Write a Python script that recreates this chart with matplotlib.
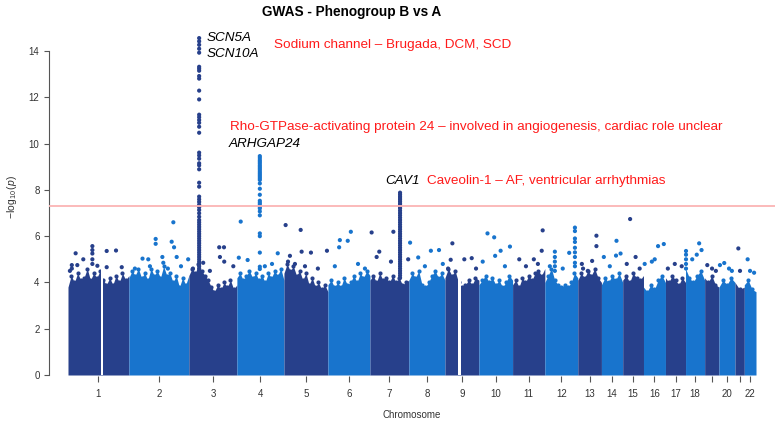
import numpy as np
import matplotlib.pyplot as plt

plt.rcParams['font.family'] = ['Liberation Sans', 'DejaVu Sans']
plt.rcParams['mathtext.fontset'] = 'custom'
plt.rcParams['mathtext.rm'] = 'Liberation Sans'
plt.rcParams['mathtext.it'] = 'Liberation Sans:italic'

# chromosome spans (Mb, first to last marker)
chrom_len = [255, 251, 201, 197, 184, 176, 163, 151, 142, 141, 135,
             138, 99, 89, 87, 92, 84, 80, 60, 67, 39, 49]
chrom_names = [str(i) for i in range(1, 23)]
tick_labels = [n if n not in ('19', '21') else '' for n in chrom_names]

# top of the dense mass of markers, read along each chromosome (-log10 p)
profiles = [
    [3.8, 4.3, 4.0, 4.4, 4.1, 4.2, 4.6, 4.1, 4.4, 4.2, 4.5, 4.1, 3.9, 4.2, 3.9, 4.3, 4.0, 4.4, 4.1, 4.3],
    [4.2, 4.5, 4.3, 4.6, 4.2, 4.4, 4.1, 4.6, 4.3, 4.5, 4.2, 4.7, 4.3, 4.4, 4.0, 4.3, 3.8, 4.2, 3.9, 4.3],
    [4.3, 4.6, 4.4, 4.8, 4.5, 4.3, 4.1, 3.8, 3.6, 3.9, 3.7, 4.0, 3.8, 4.1, 3.7, 3.9],
    [4.2, 4.4, 4.1, 4.3, 4.5, 4.2, 4.4, 4.1, 4.3, 4.0, 4.4, 4.2, 4.5, 4.3, 4.6, 4.1],
    [4.4, 4.8, 4.5, 4.7, 4.3, 4.5, 4.1, 4.4, 3.9, 4.2, 3.8, 4.0, 3.7, 3.9, 3.6],
    [3.9, 4.1, 3.8, 4.0, 3.8, 4.2, 3.9, 4.0, 4.3, 4.0, 4.4, 4.2, 4.5, 4.3],
    [4.1, 4.3, 4.0, 4.4, 4.1, 4.2, 4.0, 4.3, 4.0, 4.2, 3.9, 4.0, 4.1],
    [4.1, 4.4, 4.2, 4.5, 3.9, 3.8, 4.0, 4.3, 4.5, 4.2, 4.4, 4.1],
    [4.2, 4.6, 4.3, 4.5, 4.0, 3.8, 3.9, 4.1, 3.9, 4.2, 4.1],
    [3.9, 4.1, 4.3, 4.0, 4.2, 3.9, 4.1, 3.8, 4.0, 4.3, 4.1],
    [3.9, 4.1, 3.8, 4.2, 4.0, 4.3, 4.1, 4.4, 4.5, 4.3, 4.6],
    [4.0, 4.3, 4.6, 4.1, 3.9, 3.8, 3.9, 3.8, 4.0, 4.4, 4.2],
    [4.1, 4.4, 4.2, 4.5, 4.3, 4.6, 4.2, 4.0],
    [3.9, 4.2, 4.0, 4.3, 4.1, 4.4, 4.0],
    [4.1, 4.3, 4.0, 4.4, 4.2, 4.1, 4.3],
    [3.8, 3.6, 3.9, 3.7, 4.1, 4.3, 4.0],
    [4.2, 4.0, 4.3, 4.1, 3.9, 4.2, 4.0],
    [4.6, 4.2, 4.0, 4.3, 4.5, 4.1],
    [4.2, 4.0, 4.3, 3.9, 3.8],
    [3.8, 4.1, 3.9, 4.2, 4.0],
    [4.0, 3.7, 3.8],
    [3.9, 4.1, 3.7, 3.6],
]

# centromere gaps without markers (chrom, start Mb, end Mb)
gap_chr = [1, 9]
gap_start = [140, 54]
gap_end = [146, 67]

# association peaks
scn5a_p = [14.56, 14.42, 14.27, 14.1, 13.93, 13.32, 13.24, 13.15, 12.92, 12.81,
           12.29, 11.91, 11.25, 11.14, 11.02, 10.9, 10.73, 10.47, 9.61, 9.49,
           9.35, 9.15, 9.06, 8.89, 8.31, 8.14, 7.71, 7.59, 7.48, 7.36, 7.25,
           7.13, 6.99, 6.84, 6.7, 6.6, 6.5, 6.4, 6.3, 6.2, 6.1, 6.0, 5.9, 5.8,
           5.7, 5.6, 5.5, 5.4, 5.3, 5.2, 5.1, 5.0, 4.9, 4.8, 4.7, 4.6]
arhgap24_p = [9.46, 9.38, 9.29, 9.22, 9.15, 9.07, 9.0, 8.93, 8.86, 8.78, 8.71,
              8.64, 8.57, 8.5, 8.43, 8.28, 8.05, 7.79, 7.53, 7.45, 7.38, 7.27,
              7.2, 7.07, 6.9, 6.12, 6.0, 5.29, 4.68, 4.58]
cav1_p = [7.88, 7.8, 7.72, 7.65, 7.58, 7.5, 7.42, 7.35, 7.27, 7.2, 7.1, 7.0,
          6.9, 6.8, 6.7, 6.6, 6.5, 6.4, 6.3, 6.2, 6.1, 6.0, 5.9, 5.8, 5.7,
          5.6, 5.5, 5.4, 5.3, 5.2, 5.1, 5.0, 4.9, 4.8, 4.7, 4.6, 4.5, 4.4,
          4.3, 4.2]
chr12a_p = [6.37, 6.22, 5.9, 5.75, 5.5, 5.3, 5.1, 4.85, 4.7]
chr12b_p = [5.33, 5.1, 4.9, 4.7, 4.5]
chr18_p = [5.36, 5.2, 5.0, 4.8, 4.6]
chr1_p = [5.57, 5.4, 5.25, 5.0, 4.8]

peak_chr = [3] * len(scn5a_p) + [4] * len(arhgap24_p) + [7] * len(cav1_p) \
    + [12] * len(chr12a_p) + [12] * len(chr12b_p) + [18] * len(chr18_p) + [1] * len(chr1_p)
peak_pos = [43] * len(scn5a_p) + [96] * len(arhgap24_p) + [126] * len(cav1_p) \
    + [126] * len(chr12a_p) + [42] * len(chr12b_p) + [2] * len(chr18_p) + [102] * len(chr1_p)
peak_p = scn5a_p + arhgap24_p + cav1_p + chr12a_p + chr12b_p + chr18_p + chr1_p

# single markers standing above the bulk
hit_chr = [1] * 11 + [2] * 15 + [3] * 8 + [4] * 6 + [5] * 10 + [6] * 7 + [7] * 6 \
    + [8] * 6 + [9] * 6 + [10] * 7 + [11] * 6 + [12] * 3 + [13] * 6 + [14] * 5 \
    + [15] * 4 + [16] * 5 + [17] * 3 + [18] * 4 + [19] * 3 + [20] * 4 + [21] * 2 + [22] * 3
hit_pos = [32, 162, 201, 64, 16, 16, 39, 123, 162, 225, 8,
           112, 112, 186, 179, 189, 200, 140, 81, 57, 144, 248, 25, 88, 163, 218,
           127, 147, 130, 148, 186, 60, 17, 88,
           16, 8, 45, 171, 117, 147,
           7, 70, 25, 74, 113, 180, 17, 46, 88, 142,
           50, 47, 83, 96, 29, 126, 155,
           7, 98, 39, 28, 88, 160,
           5, 92, 126, 39, 67, 142,
           31, 24, 81, 112, 13, 130,
           36, 64, 91, 130, 68, 16, 109,
           28, 89, 126, 122, 56, 106,
           102, 21, 75,
           22, 78, 78, 60, 17, 42,
           10, 63, 61, 80, 35,
           31, 54, 17, 71,
           5, 61, 85, 35, 47,
           10, 39, 68,
           57, 67, 28, 47,
           11, 31, 47,
           4, 22, 42, 54,
           14, 21,
           14, 41, 24]
hit_p = [5.26, 5.36, 5.38, 5.0, 4.75, 4.6, 4.75, 4.72, 4.66, 4.66, 4.5,
         5.88, 5.67, 6.6, 5.76, 5.52, 5.1, 5.1, 5.0, 5.03, 4.85, 5.0, 4.6, 4.7, 4.6, 4.7,
         5.52, 5.52, 5.1, 4.9, 4.7, 4.85, 4.6, 4.5,
         6.63, 5.07, 4.97, 5.26, 4.7, 4.8,
         6.48, 6.27, 5.15, 5.33, 5.29, 5.37, 4.9, 4.8, 4.7, 4.6,
         5.83, 5.52, 5.8, 6.19, 4.7, 4.8, 4.6,
         6.16, 6.19, 5.33, 5.1, 4.9, 5.0,
         5.72, 5.37, 5.4, 5.08, 4.7, 4.8,
         5.69, 4.98, 5.0, 5.05, 4.6, 4.6,
         6.12, 5.95, 5.37, 5.55, 5.15, 4.9, 4.7,
         5.0, 5.0, 6.25, 5.37, 4.7, 4.8,
         5.28, 4.7, 4.6,
         4.6, 6.02, 5.57, 4.93, 4.8, 4.5,
         5.1, 5.8, 5.16, 5.25, 4.7,
         6.74, 5.1, 4.8, 4.6,
         4.8, 5.57, 5.66, 4.9, 5.0,
         4.6, 4.8, 4.7,
         5.69, 5.4, 5.0, 5.2,
         4.75, 4.6, 4.5,
         4.75, 4.84, 4.6, 4.5,
         5.47, 4.5,
         5.0, 4.42, 4.5]

dark = '#27408B'
light = '#1874CD'
offsets = np.concatenate([[0], np.cumsum(chrom_len)[:-1]])
total = sum(chrom_len)
colors = [dark if i % 2 == 0 else light for i in range(22)]

fig = plt.figure(figsize=(7.77, 4.22), dpi=100)
ax = fig.add_axes([49 / 777, 46 / 422, 726 / 777, 346 / 422])

for i in range(22):
    xs = offsets[i] + np.linspace(0, chrom_len[i], len(profiles[i]))
    ax.fill_between(xs, 0, profiles[i], color=colors[i], lw=0, zorder=1)
    # the tips of the mass are single markers too
    ax.scatter(xs[1:-1], profiles[i][1:-1], s=9, color=colors[i], lw=0, zorder=1)

for c, g0, g1 in zip(gap_chr, gap_start, gap_end):
    ax.fill_between([offsets[c - 1] + g0, offsets[c - 1] + g1], 0, 4.8,
                    color='white', lw=0, zorder=2)

for chrs, pos, p in [(peak_chr, peak_pos, peak_p), (hit_chr, hit_pos, hit_p)]:
    chrs = np.array(chrs)
    x = offsets[chrs - 1] + np.array(pos)
    col = [colors[c - 1] for c in chrs]
    ax.scatter(x, p, s=9, c=col, lw=0, zorder=3)

ax.axhline(-np.log10(5e-8), color='#fbb4b4', lw=1.3, zorder=4)

ax.set_xlim(-79.5, total + 79.5)
ax.set_ylim(-0.043, 14.91)
for s in ['top', 'right', 'bottom']:
    ax.spines[s].set_visible(False)
ax.spines['left'].set_bounds(0, 14)
ax.spines['left'].set_color('#555555')
ax.spines['left'].set_linewidth(0.8)
ax.set_yticks(range(0, 15, 2))
ax.set_xticks(offsets + np.array(chrom_len) / 2)
ax.set_xticklabels(tick_labels)
ax.tick_params(axis='y', length=3.8, width=0.8, color='#555555', labelsize=7,
               labelcolor='#333333', pad=3)
ax.tick_params(axis='x', length=4.3, width=0.8, color='#555555', labelsize=7,
               labelcolor='#333333', pad=5)

red = '#ff1a1a'
fs = 9.7
ax.text(582, 14.56, 'SCN5A', style='italic', fontsize=fs, va='center')
ax.text(582, 13.87, 'SCN10A', style='italic', fontsize=fs, va='center')
ax.text(862, 14.26, 'Sodium channel \u2013 Brugada, DCM, SCD', color=red, fontsize=fs, va='center')
ax.text(678, 10.72, 'Rho-GTPase-activating protein 24 \u2013 involved in angiogenesis, cardiac role unclear',
        color=red, fontsize=fs, va='center')
ax.text(674, 9.98, 'ARHGAP24', style='italic', fontsize=fs, va='center')
ax.text(1330, 8.38, 'CAV1', style='italic', fontsize=fs, va='center')
ax.text(1502, 8.38, 'Caveolin-1 \u2013 AF, ventricular arrhythmias', color=red, fontsize=fs, va='center')

fig.text(352 / 777, 1 - 12 / 422, 'GWAS - Phenogroup B vs A', fontsize=9.8,
         fontweight='bold', ha='center', va='center')
fig.text(412 / 777, 1 - 415 / 422, 'Chromosome', fontsize=7, ha='center', va='center',
         color='#333333')
fig.text(12 / 777, 1 - 197 / 422, r'$-\log_{10}(p)$', fontsize=7.5, rotation=90,
         ha='center', va='center', color='#333333')

fig.savefig('out.png', dpi=100)
